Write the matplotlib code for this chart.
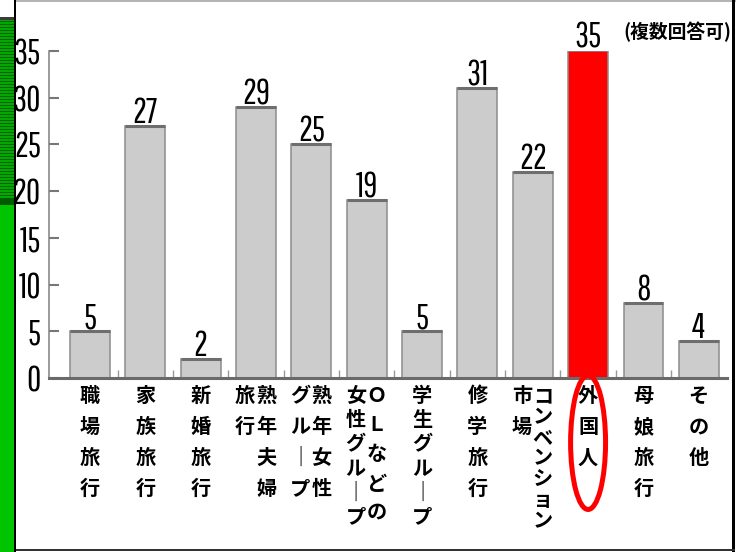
import matplotlib
matplotlib.use('Agg')
import matplotlib.pyplot as plt
from matplotlib.patches import Rectangle, Ellipse

# survey counts per travel market (multiple answers allowed)
label_columns = [['職場旅行'], ['家族旅行'], ['新婚旅行'], ['熟年夫婦', '旅行'],
                 ['熟年女性', 'グループ'], ['ＯＬなどの', '女性グループ'], ['学生グループ'],
                 ['修学旅行'], ['コンベンション', '市場'], ['外国人'], ['母娘旅行'], ['その他']]
values = [5, 27, 2, 29, 25, 19, 5, 31, 22, 35, 8, 4]
highlight = 9
yticks = [0, 5, 10, 15, 20, 25, 30, 35]
note = '(複数回答可)'

W, H = 736, 552
plt.rcParams['font.family'] = ['Pathway Gothic One', 'Roboto Condensed', 'DejaVu Sans']
JP = ['Noto Sans CJK JP', 'DejaVu Sans']
NUM_SIZE = 25

fig = plt.figure(figsize=(W / 100, H / 100), dpi=100)
fig.patch.set_facecolor('white')


def fig_rect(x0, y0, x1, y1, color):
    # rectangle given in pixels from the top-left corner
    fig.add_artist(Rectangle((x0 / W, 1 - y1 / H), (x1 - x0) / W, (y1 - y0) / H,
                             transform=fig.transFigure, facecolor=color, lw=0))


# page frame and the green strip on the left
fig_rect(0, 17, 14, 198, '#00a800')
for y in range(21, 197, 3):
    fig_rect(0, y, 14, y + 1, '#006400')
fig_rect(0, 17, 14, 20, '#3c3c3c')
fig_rect(0, 198, 14, 205, '#005a00')
fig_rect(0, 205, 14, H, '#00c400')
fig_rect(14, 0, 16, H, 'black')
fig_rect(16, 0, W, 2, '#b4b4b4')
fig_rect(732, 0, 735, H, 'black')
fig_rect(16, 549, 735, 551, '#333333')

ax = fig.add_axes([49 / W, 1 - 378 / H, (727 - 49) / W, (378 - 51) / H])
x = list(range(len(values)))
colors = ['#ff0000' if i == highlight else '#cccccc' for i in x]
bw = 0.72
ax.bar(x, values, width=bw, color=colors, edgecolor='#8c8c8c', linewidth=1.1, zorder=2)
for i, v in enumerate(values):
    if i != highlight:
        ax.hlines(v, i - bw / 2, i + bw / 2, color='#6e6e6e', lw=2.2, zorder=3)
    ax.annotate(str(v), xy=(i, v), xytext=(0, 3), textcoords='offset pixels',
                ha='center', va='baseline', fontsize=NUM_SIZE, annotation_clip=False)

ax.set_xlim(-0.74, 11.51)
ax.set_ylim(0, 35)
ax.set_yticks(yticks)
ax.set_xticks([])
ax.set_xticks([i + 0.5 for i in range(len(values) - 1)], minor=True)
ax.tick_params(axis='y', direction='in', length=7.2, width=1.5, color='#777777',
               pad=5.8, labelsize=NUM_SIZE)
ax.tick_params(axis='x', which='minor', direction='in', length=6, width=1, color='#999999')
for s in ['top', 'right']:
    ax.spines[s].set_visible(False)
ax.spines['left'].set_color('#808080')
ax.spines['left'].set_linewidth(1.1)
ax.spines['bottom'].set_color('#6a6a6a')
ax.spines['bottom'].set_linewidth(2.2)
ax.spines['bottom'].set_zorder(4)

# vertical category labels, columns read right to left
for i, cols in enumerate(label_columns):
    offsets = [0] if len(cols) == 1 else [10, -11]
    for col, dx in zip(cols, offsets):
        pitch = min(31, 146 / len(col))
        for k, ch in enumerate(col.replace('ー', '｜')):
            ax.annotate(ch, xy=(i, 0), xytext=(dx, -7 - k * pitch), textcoords='offset pixels',
                        ha='center', va='top', fontsize=14.5, family=JP, fontweight='bold',
                        annotation_clip=False)

ax.add_patch(Ellipse((highlight, -6.9), 0.632, 14.34, fill=False, edgecolor='red',
                     lw=3.6, clip_on=False, zorder=5))

fig.text(731 / W, 1 - 31.5 / H, note, ha='right', va='center', fontsize=13.5,
         family=JP, fontweight='bold')

fig.savefig('out.png', dpi=100)
